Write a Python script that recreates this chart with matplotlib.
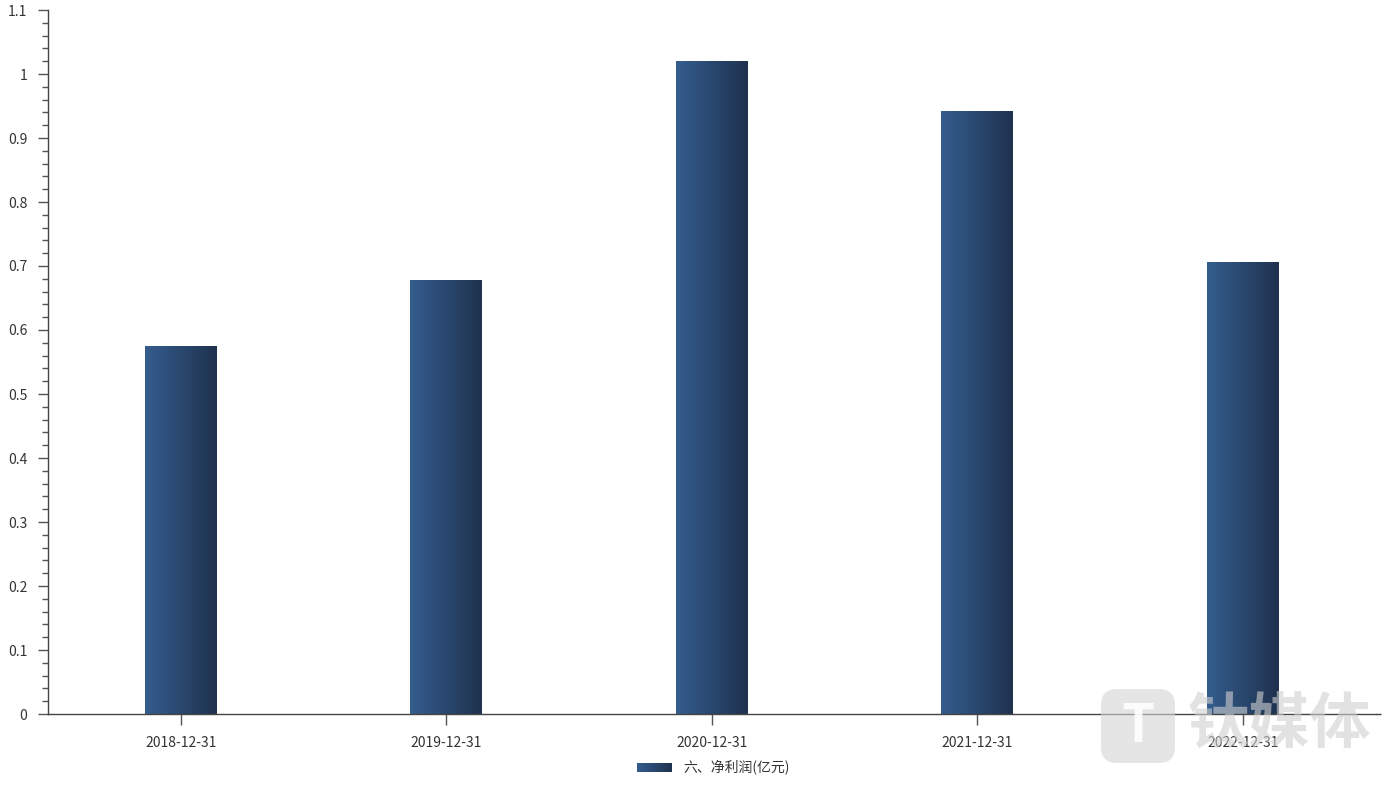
import numpy as np
import matplotlib.pyplot as plt
from matplotlib.ticker import MultipleLocator
from matplotlib.patches import FancyBboxPatch

plt.rcParams['font.family'] = ['Noto Sans CJK SC', 'DejaVu Sans']

# data
dates = ['2018-12-31', '2019-12-31', '2020-12-31', '2021-12-31', '2022-12-31']
net_profit = [0.574, 0.678, 1.020, 0.941, 0.706]
series_name = '六、净利润(亿元)'
y_labels = ['0', '0.1', '0.2', '0.3', '0.4', '0.5', '0.6', '0.7', '0.8', '0.9', '1', '1.1']

c_left = np.array([52, 93, 142]) / 255
c_right = np.array([31, 50, 79]) / 255
grad = np.linspace(0, 1, 64)
grad_img = (c_left[None, :] * (1 - grad[:, None]) + c_right[None, :] * grad[:, None])[None, :, :]

fig = plt.figure(figsize=(14, 7.91), dpi=100)
ax = fig.add_axes([48 / 1400, 1 - 714 / 791, 1327.5 / 1400, (714 - 10) / 791])

x = np.arange(len(dates))
bar_w = 0.271
for xi, v in zip(x, net_profit):
    ax.imshow(grad_img, extent=[xi - bar_w / 2, xi + bar_w / 2, 0, v],
              aspect='auto', interpolation='bilinear', zorder=2)

ax.set_xlim(-0.5, len(dates) - 0.5)
ax.set_ylim(0, 1.1)
ax.set_xticks(x)
ax.set_xticklabels(dates)
ax.set_yticks(np.arange(len(y_labels)) * 0.1)
ax.set_yticklabels(y_labels)
ax.yaxis.set_minor_locator(MultipleLocator(0.02))

for s in ['top', 'right']:
    ax.spines[s].set_visible(False)
for s in ['left', 'bottom']:
    ax.spines[s].set_color('#444444')
    ax.spines[s].set_linewidth(1)
# axis line runs a little past the last category
ax.plot([len(dates) - 0.5, len(dates) - 0.48], [0, 0], color='#444444', lw=1,
        clip_on=False, solid_capstyle='butt')
ax.tick_params(axis='both', which='major', length=7, width=1, color='#555555',
               labelsize=10, labelcolor='#333333', pad=8)
ax.tick_params(axis='y', which='minor', length=4, width=1, color='#555555')
ax.tick_params(axis='x', which='major', length=8)

# legend
lax = fig.add_axes([637 / 1400, 1 - 772 / 791, 35 / 1400, 9 / 791])
lax.imshow(grad_img, aspect='auto', interpolation='bilinear')
lax.axis('off')
fig.text(683 / 1400, 1 - 767 / 791, series_name, fontsize=10, color='#333333',
         va='center', ha='left')

# watermark
wax = fig.add_axes([1098 / 1400, 1 - 766 / 791, 290 / 1400, 80 / 791])
wax.set_xlim(0, 290)
wax.set_ylim(0, 80)
wax.axis('off')
wax.add_patch(FancyBboxPatch((3, 3), 74, 74, boxstyle='round,pad=0,rounding_size=16',
                             fc='#d4d4d4', ec='none', alpha=0.6))
wax.text(40, 40, 'T', fontsize=38, color='white', ha='center', va='center',
         fontweight='bold', alpha=0.9)
wax.text(90, 40, '钛媒体', fontsize=44, color='#d0d0d0', ha='left', va='center',
         fontweight='bold', alpha=0.6)

fig.savefig('out.png', dpi=100)
